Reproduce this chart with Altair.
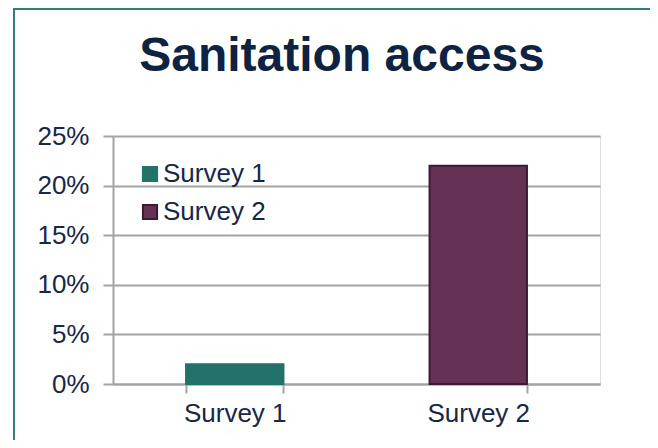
import altair as alt
import pandas as pd

# ---- data ----
surveys = ["Survey 1", "Survey 2"]
values = [0.02, 0.22]
y_ticks = [0, 0.05, 0.10, 0.15, 0.20, 0.25]
title_text = "Sanitation access"

fills = ["#22726a", "#653256"]
strokes = ["#22726a", "#3b1a32"]
text_color = "#17274a"
grid_color = "#a3a3a3"
frame_color = "#2e8079"
FONT = "Liberation Sans"

df = pd.DataFrame({"survey": surveys, "value": values})

W, H = 487, 248

x_enc = alt.X(
    "survey:N", sort=surveys,
    scale=alt.Scale(paddingInner=0.6, paddingOuter=0.3),
    axis=alt.Axis(title=None, labelAngle=0, tickBand="extent", labelFontSize=26,
                  labelFont=FONT, labelColor=text_color, domainColor=grid_color,
                  domainWidth=2, tickColor=grid_color, tickWidth=2, tickSize=9,
                  labelPadding=7, grid=False),
)
y_enc = alt.Y(
    "value:Q", scale=alt.Scale(domain=[0, 0.25], nice=False),
    axis=alt.Axis(title=None, values=y_ticks, format=".0%", labelFontSize=26,
                  labelFont=FONT, labelColor=text_color, domainColor=grid_color,
                  domainWidth=2, tickColor=grid_color, tickWidth=2, tickSize=10,
                  labelPadding=14, grid=True, gridColor=grid_color, gridWidth=2),
)

legend = alt.Legend(title=None, orient="none", legendX=24, legendY=25, padding=0,
                    symbolType="square", symbolSize=200, symbolStrokeWidth=2,
                    labelFontSize=26, labelFont=FONT, labelColor=text_color,
                    labelOffset=0, rowPadding=12)

bars = alt.Chart(df).mark_bar(strokeWidth=2).encode(
    x=x_enc,
    y=y_enc,
    fill=alt.Fill("survey:N", sort=surveys, scale=alt.Scale(domain=surveys, range=fills), legend=legend),
    stroke=alt.Stroke("survey:N", sort=surveys, scale=alt.Scale(domain=surveys, range=strokes), legend=legend),
)

title = alt.Chart(pd.DataFrame({"t": [title_text]})).mark_text(
    font=FONT, fontSize=48, fontWeight="bold", color="#0e2242",
    align="center", baseline="alphabetic",
).encode(text="t:N", x=alt.value(342 - 113), y=alt.value(71 - 136))

frame_left = alt.Chart(pd.DataFrame({"a": [0]})).mark_rule(
    color=frame_color, strokeWidth=2
).encode(x=alt.value(14 - 113), y=alt.value(9 - 136), y2=alt.value(460))
frame_top = alt.Chart(pd.DataFrame({"a": [0]})).mark_rule(
    color=frame_color, strokeWidth=2
).encode(x=alt.value(13 - 113), x2=alt.value(560), y=alt.value(9 - 136))

chart = alt.layer(bars, title, frame_left, frame_top).properties(
    width=W, height=H,
    autosize=alt.AutoSizeParams(type="none"),
    padding={"left": 105, "top": 128, "right": 50, "bottom": 56},
).configure_view(stroke=None).configure(background="white")

chart.save("out.html", embed_options={"renderer": "svg", "actions": False})
